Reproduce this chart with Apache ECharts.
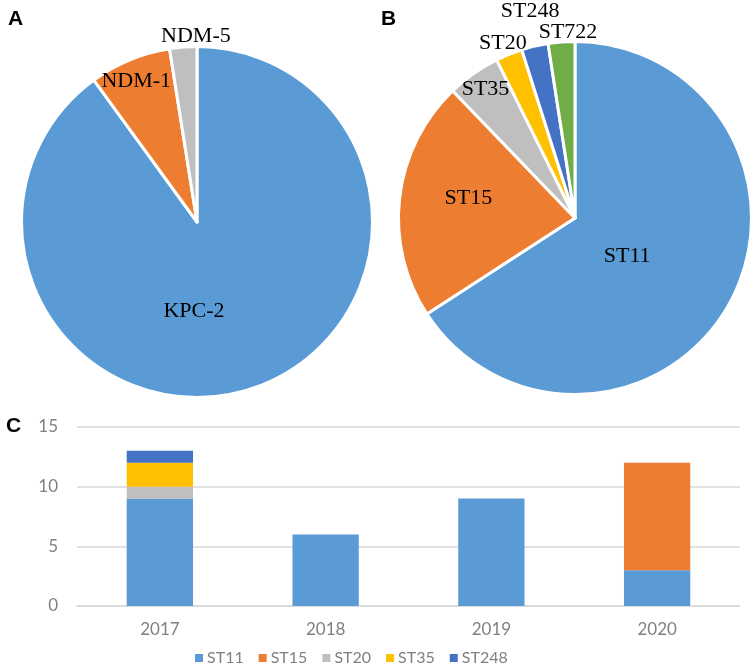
<!DOCTYPE html>
<html><head><meta charset="utf-8">
<script src="https://cdn.jsdelivr.net/npm/echarts@6/dist/echarts.min.js"></script>
<style>html,body{margin:0;padding:0;background:#fff}#c{width:750px;height:666px}</style>
</head><body><div id="c"></div>
<script>
// ---- data ----
const carbNames = ['KPC-2', 'NDM-1', 'NDM-5'];
const carbValues = [36, 3, 1];
const stNames = ['ST11', 'ST15', 'ST35', 'ST20', 'ST248', 'ST722'];
const stValues = [27, 9, 2, 1, 1, 1];
const years = ['2017', '2018', '2019', '2020'];
const barNames = ['ST11', 'ST15', 'ST20', 'ST35', 'ST248'];
const st11 = [9, 6, 9, 3];
const st15 = [0, 0, 0, 9];
const st20 = [1, 0, 0, 0];
const st35 = [2, 0, 0, 0];
const st248 = [1, 0, 0, 0];
const yMin = 0, yMax = 15, yStep = 5;

// ---- styles ----
const pieAColors = ['#5B9BD5', '#ED7D31', '#BFBFBF'];
const pieBColors = ['#5B9BD5', '#ED7D31', '#BFBFBF', '#FFC000', '#4472C4', '#70AD47'];
const barColors = ['#5B9BD5', '#ED7D31', '#BFBFBF', '#FFC000', '#4472C4'];
const pieANudge = [[-31, 3], [-26, -57], [6, -95]];
const pieBNudge = [[-28, -5], [-16, -9], [-37, -54], [-38, -90], [-24, -118], [0, -95]];
const axisFont = 'Lato, "Open Sans", sans-serif';
const axisColor = '#808080';

const chart = echarts.init(document.getElementById('c'), null, {renderer: 'canvas'});

function pieSeries(names, values, colors, nudge, center, radius) {
  return {
    type: 'pie',
    center: center,
    radius: radius,
    startAngle: 90,
    clockwise: true,
    avoidLabelOverlap: false,
    silent: true,
    itemStyle: {borderColor: '#fff', borderWidth: 3},
    label: {
      show: true, position: 'inside',
      fontFamily: '"Liberation Serif", "Times New Roman", serif',
      fontSize: 22, color: '#000'
    },
    labelLine: {show: false},
    labelLayout: function (p) {
      const n = nudge[p.dataIndex] || [0, 0];
      return {dx: n[0], dy: n[1]};
    },
    data: names.map((n, i) => ({name: n, value: values[i], itemStyle: {color: colors[i]}}))
  };
}

const barData = [st11, st15, st20, st35, st248];

const option = {
  animation: false,
  backgroundColor: '#fff',
  title: [
    {text: 'A', left: 3, top: 4, textStyle: {fontFamily: '"Liberation Sans", Arial, sans-serif', fontSize: 21, fontWeight: 'bold', color: '#000'}},
    {text: 'B', left: 376, top: 4, textStyle: {fontFamily: '"Liberation Sans", Arial, sans-serif', fontSize: 21, fontWeight: 'bold', color: '#000'}},
    {text: 'C', left: 1, top: 411, textStyle: {fontFamily: '"Liberation Sans", Arial, sans-serif', fontSize: 21, fontWeight: 'bold', color: '#000'}}
  ],
  legend: {
    data: barNames,
    left: 195, top: 650, padding: 0,
    itemWidth: 8, itemHeight: 8, itemGap: 15,
    icon: 'rect',
    selectedMode: false,
    textStyle: {fontFamily: axisFont, fontSize: 16, color: axisColor, padding: [0, 0, 0, -1]}
  },
  grid: {left: 77, right: 10, top: 427, bottom: 60},
  xAxis: {
    type: 'category', data: years,
    axisLine: {lineStyle: {color: '#D9D9D9', width: 1.5}},
    axisTick: {show: false},
    axisLabel: {fontFamily: axisFont, fontSize: 17, color: axisColor, margin: 15}
  },
  yAxis: {
    type: 'value', min: yMin, max: yMax, interval: yStep,
    axisLine: {show: false}, axisTick: {show: false},
    splitLine: {lineStyle: {color: '#D9D9D9', width: 1.5}},
    axisLabel: {fontFamily: axisFont, fontSize: 17, color: axisColor, margin: 19}
  },
  series: [
    pieSeries(carbNames, carbValues, pieAColors, pieANudge, [197, 222], 175.5),
    pieSeries(stNames, stValues, pieBColors, pieBNudge, [575, 218], 176.5)
  ].concat(barNames.map((n, i) => ({
    type: 'bar', name: n, stack: 'total', barWidth: '40%',
    itemStyle: {color: barColors[i]},
    data: barData[i]
  })))
};
chart.setOption(option);
</script>
</body></html>
